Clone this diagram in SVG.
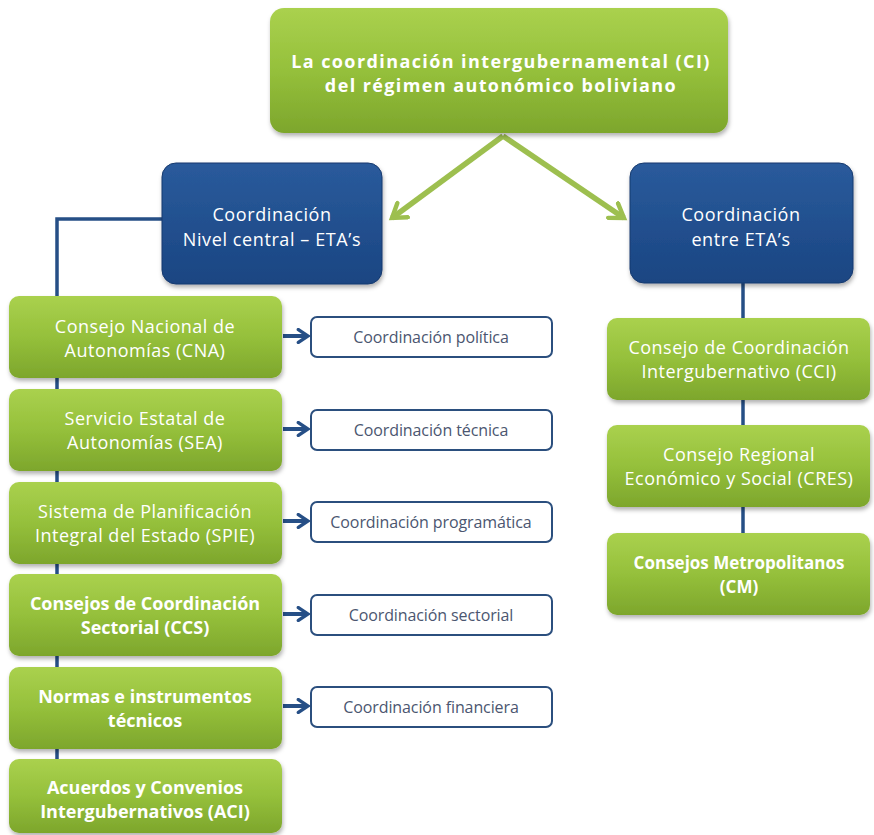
<svg xmlns="http://www.w3.org/2000/svg" width="874" height="835" viewBox="0 0 874 835">
<defs>
<linearGradient id="gg" x1="0" y1="0" x2="0" y2="1">
<stop offset="0" stop-color="#aad14e"/>
<stop offset="0.5" stop-color="#95c03b"/>
<stop offset="1" stop-color="#7da62c"/>
</linearGradient>
<linearGradient id="bg" x1="0" y1="0" x2="0" y2="1">
<stop offset="0" stop-color="#2a5b9c"/>
<stop offset="1" stop-color="#1a4582"/>
</linearGradient>
<filter id="sh" x="-10%" y="-10%" width="120%" height="130%">
<feDropShadow dx="1" dy="3" stdDeviation="2" flood-color="#000" flood-opacity="0.3"/>
</filter>
<marker id="ga" viewBox="0 0 10 10" refX="7" refY="5" markerWidth="4" markerHeight="4" orient="auto" markerUnits="strokeWidth">
<polyline points="1,1 7,5 1,9" fill="none" stroke="#9dbf4f" stroke-width="2" stroke-linecap="round"/>
</marker>
<marker id="ba" viewBox="0 0 10 10" refX="8" refY="5" markerWidth="4" markerHeight="4" orient="auto" markerUnits="strokeWidth">
<polyline points="2,1 8,5 2,9" fill="none" stroke="#264f86" stroke-width="2.2" stroke-linecap="round"/>
</marker>
<style>
.g{fill:url(#gg);filter:url(#sh)}
.b{fill:url(#bg);stroke:#173a6e;stroke-width:1;filter:url(#sh)}
.w{fill:#fff;stroke:#2b4f7e;stroke-width:2}
.t{font-family:"Open Sans","Liberation Sans",sans-serif;fill:#fff;text-anchor:middle;font-size:18px;letter-spacing:0.5px}
.tb{font-weight:bold;letter-spacing:0}
.bt{font-size:18px;letter-spacing:0.6px}
.hd{font-size:18px;letter-spacing:1.4px}
.s{font-family:"Open Sans","Liberation Sans",sans-serif;fill:#4b5670;text-anchor:middle;font-size:16px;letter-spacing:-0.1px}
.c{fill:none;stroke:#264f86;stroke-width:3.5}
</style>
</defs>
<g id="connectors">
<polyline class="c" points="163,219 57,219 57,770"/>
<line class="c" x1="743" y1="283" x2="743" y2="540"/>
<line x1="503" y1="136" x2="392" y2="218" stroke="#9dbf4f" stroke-width="5.5" marker-end="url(#ga)"/>
<line x1="503" y1="136" x2="624" y2="218" stroke="#9dbf4f" stroke-width="5.5" marker-end="url(#ga)"/>
<line x1="283" y1="336" x2="308" y2="336" stroke="#264f86" stroke-width="4" marker-end="url(#ba)"/>
<line x1="283" y1="429" x2="308" y2="429" stroke="#264f86" stroke-width="4" marker-end="url(#ba)"/>
<line x1="283" y1="521" x2="308" y2="521" stroke="#264f86" stroke-width="4" marker-end="url(#ba)"/>
<line x1="283" y1="614" x2="308" y2="614" stroke="#264f86" stroke-width="4" marker-end="url(#ba)"/>
<line x1="283" y1="706" x2="308" y2="706" stroke="#264f86" stroke-width="4" marker-end="url(#ba)"/>
</g>
<g id="top">
<rect class="g" x="270" y="8" width="458" height="125" rx="14"/>
<text class="t tb hd" x="501" y="68">La coordinación intergubernamental (CI)</text>
<text class="t tb hd" x="501" y="92">del régimen autonómico boliviano</text>
</g>
<g id="nivel-central">
<rect class="b" x="162" y="163" width="220" height="121" rx="14"/>
<text class="t bt" x="272" y="221">Coordinación</text>
<text class="t bt" x="272" y="246">Nivel central – ETA’s</text>
</g>
<g id="entre-etas">
<rect class="b" x="630" y="163" width="223" height="120" rx="14"/>
<text class="t bt" x="741" y="221">Coordinación</text>
<text class="t bt" x="741" y="246">entre ETA’s</text>
</g>
<g id="cna">
<rect class="g" x="9" y="296" width="273" height="82" rx="10"/>
<text class="t" x="145" y="333">Consejo Nacional de</text>
<text class="t" x="145" y="357">Autonomías (CNA)</text>
</g>
<g id="sea">
<rect class="g" x="9" y="389" width="273" height="82" rx="10"/>
<text class="t" x="145" y="425">Servicio Estatal de</text>
<text class="t" x="145" y="449">Autonomías (SEA)</text>
</g>
<g id="spie">
<rect class="g" x="9" y="482" width="273" height="82" rx="10"/>
<text class="t" x="145" y="518">Sistema de Planificación</text>
<text class="t" x="145" y="542">Integral del Estado (SPIE)</text>
</g>
<g id="ccs">
<rect class="g" x="9" y="574" width="273" height="82" rx="10"/>
<text class="t tb" x="145" y="610">Consejos de Coordinación</text>
<text class="t tb" x="145" y="634">Sectorial (CCS)</text>
</g>
<g id="normas">
<rect class="g" x="9" y="667" width="273" height="82" rx="10"/>
<text class="t tb" x="145" y="703">Normas e instrumentos</text>
<text class="t tb" x="145" y="727">técnicos</text>
</g>
<g id="aci">
<rect class="g" x="9" y="759" width="273" height="74" rx="10"/>
<text class="t tb" x="145" y="794">Acuerdos y Convenios</text>
<text class="t tb" x="145" y="818">Intergubernativos (ACI)</text>
</g>
<g id="politica">
<rect class="w" x="311" y="317" width="241" height="40" rx="6"/>
<text class="s" x="431" y="343">Coordinación política</text>
</g>
<g id="tecnica">
<rect class="w" x="311" y="410" width="241" height="40" rx="6"/>
<text class="s" x="431" y="436">Coordinación técnica</text>
</g>
<g id="programatica">
<rect class="w" x="311" y="502" width="241" height="40" rx="6"/>
<text class="s" x="431" y="528">Coordinación programática</text>
</g>
<g id="sectorial">
<rect class="w" x="311" y="595" width="241" height="40" rx="6"/>
<text class="s" x="431" y="621">Coordinación sectorial</text>
</g>
<g id="financiera">
<rect class="w" x="311" y="687" width="241" height="40" rx="6"/>
<text class="s" x="431" y="713">Coordinación financiera</text>
</g>
<g id="cci">
<rect class="g" x="607" y="318" width="263" height="82" rx="10"/>
<text class="t" x="739" y="354">Consejo de Coordinación</text>
<text class="t" x="739" y="378">Intergubernativo (CCI)</text>
</g>
<g id="cres">
<rect class="g" x="607" y="425" width="263" height="82" rx="10"/>
<text class="t" x="739" y="461">Consejo Regional</text>
<text class="t" x="739" y="485">Económico y Social (CRES)</text>
</g>
<g id="cm">
<rect class="g" x="607" y="533" width="263" height="82" rx="10"/>
<text class="t tb" x="739" y="569" style="font-size:17px">Consejos Metropolitanos</text>
<text class="t tb" x="739" y="593" style="font-size:17px">(CM)</text>
</g>
</svg>
